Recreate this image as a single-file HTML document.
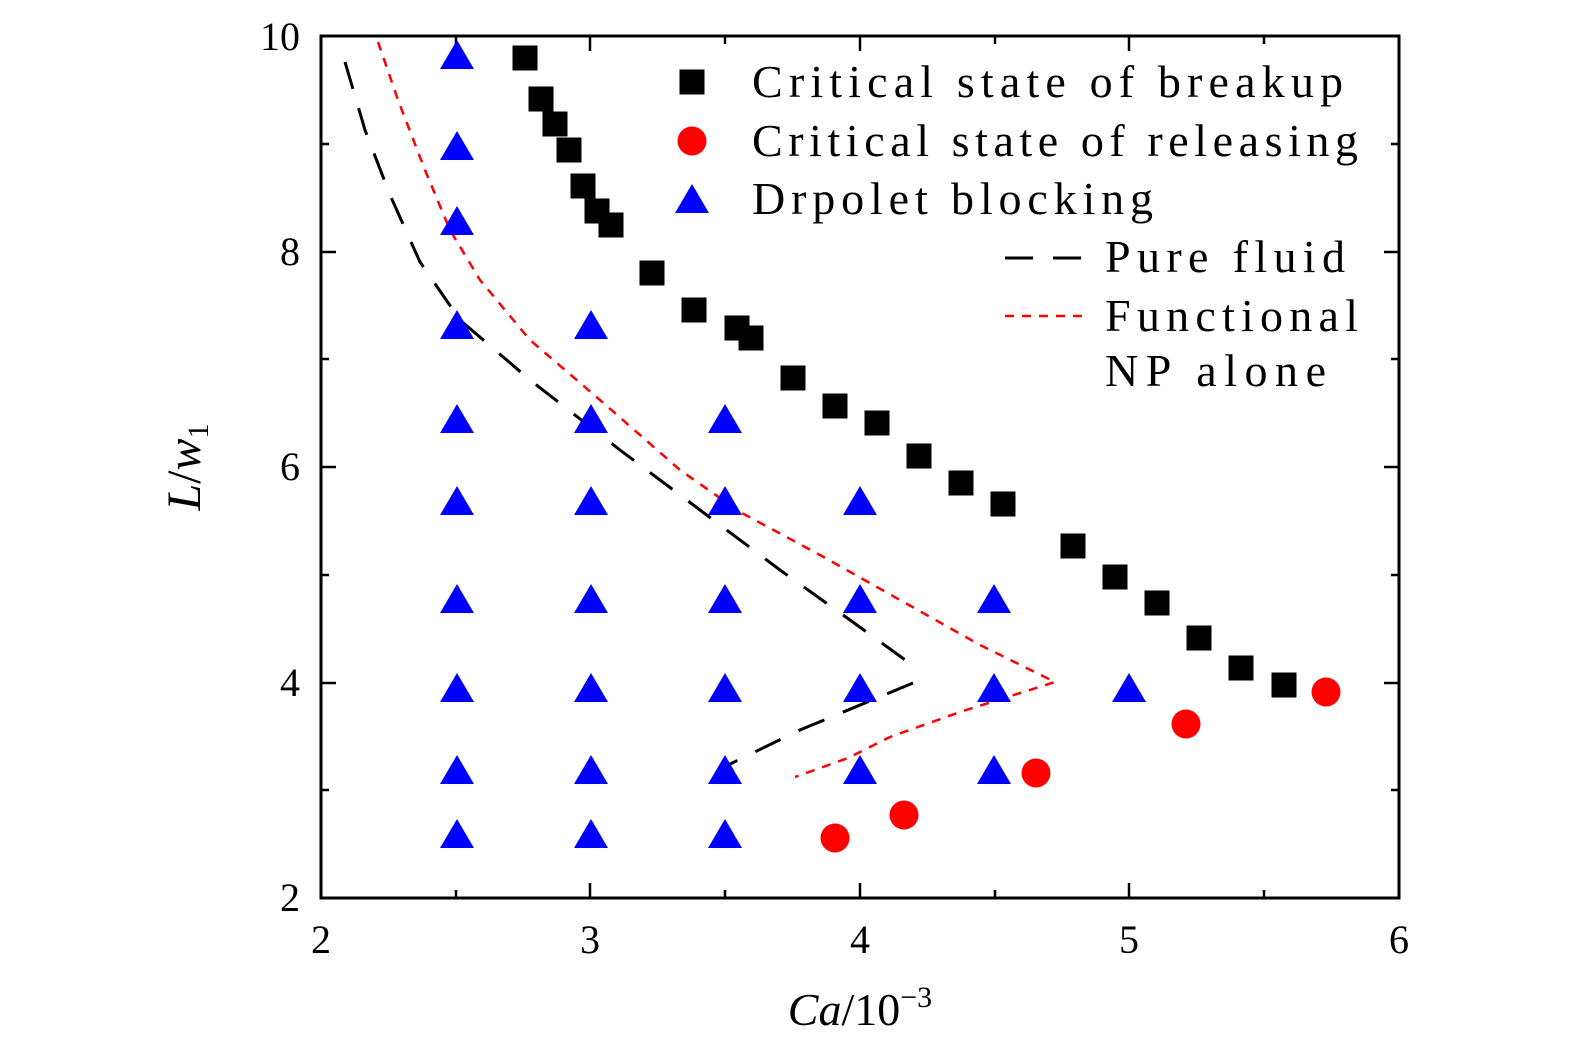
<!DOCTYPE html>
<html><head><style>body{margin:0;background:#fff}</style></head><body>
<svg width="1575" height="1053" xmlns="http://www.w3.org/2000/svg" font-family="Liberation Serif, serif">
<defs>
<path id="t" d="M-17,13 L0,-16 L17,13 Z" fill="#0000ff"/>
<rect id="s" x="-12.5" y="-12.5" width="25" height="25" fill="#000"/>
</defs>
<rect x="321" y="36" width="1078" height="862" fill="none" stroke="#000" stroke-width="3"/>
<g stroke="#000" stroke-width="2.5">
<line x1="321" y1="898" x2="321" y2="883"/><line x1="590" y1="898" x2="590" y2="883"/><line x1="860" y1="898" x2="860" y2="883"/><line x1="1129" y1="898" x2="1129" y2="883"/>
<line x1="456" y1="898" x2="456" y2="890"/><line x1="725" y1="898" x2="725" y2="890"/><line x1="995" y1="898" x2="995" y2="890"/><line x1="1264" y1="898" x2="1264" y2="890"/>
<line x1="590" y1="36" x2="590" y2="51"/><line x1="860" y1="36" x2="860" y2="51"/><line x1="1129" y1="36" x2="1129" y2="51"/>
<line x1="456" y1="36" x2="456" y2="44"/><line x1="725" y1="36" x2="725" y2="44"/><line x1="995" y1="36" x2="995" y2="44"/><line x1="1264" y1="36" x2="1264" y2="44"/>
<line x1="321" y1="683" x2="336" y2="683"/><line x1="321" y1="467" x2="336" y2="467"/><line x1="321" y1="252" x2="336" y2="252"/>
<line x1="321" y1="790" x2="329" y2="790"/><line x1="321" y1="575" x2="329" y2="575"/><line x1="321" y1="359" x2="329" y2="359"/><line x1="321" y1="144" x2="329" y2="144"/>
<line x1="1399" y1="683" x2="1384" y2="683"/><line x1="1399" y1="467" x2="1384" y2="467"/><line x1="1399" y1="252" x2="1384" y2="252"/>
<line x1="1399" y1="790" x2="1391" y2="790"/><line x1="1399" y1="575" x2="1391" y2="575"/><line x1="1399" y1="359" x2="1391" y2="359"/><line x1="1399" y1="144" x2="1391" y2="144"/>
</g>
<g font-size="40" text-anchor="middle">
<text x="321" y="953">2</text><text x="590" y="953">3</text><text x="860" y="953">4</text><text x="1129" y="953">5</text><text x="1399" y="953">6</text>
</g>
<g font-size="40" text-anchor="end">
<text x="300" y="911">2</text><text x="300" y="696">4</text><text x="300" y="480">6</text><text x="300" y="265">8</text><text x="300" y="50">10</text>
</g>
<text x="860" y="1025" font-size="46" text-anchor="middle"><tspan font-style="italic">Ca</tspan>/10<tspan font-size="30" dy="-18">−3</tspan></text>
<text transform="translate(200,467) rotate(-90)" font-size="48" text-anchor="middle"><tspan font-style="italic">L</tspan>/<tspan font-style="italic">w</tspan><tspan font-size="30" dy="8">1</tspan></text>
<polyline fill="none" stroke="#000" stroke-width="3" stroke-dasharray="28,20" points="345,62 365,130 390,195 420,262 460,320 530,380 620,450 700,510 780,570 850,620 908,662"/>
<polyline fill="none" stroke="#000" stroke-width="3" stroke-dasharray="28,20" points="913,683 800,730 728,765"/>
<polyline fill="none" stroke="#f00" stroke-width="2.5" stroke-dasharray="9,8" points="378,42 398,100 425,170 450,230 480,280 530,340 600,400 680,470 740,512 820,555 900,600 980,645 1055,682 960,712 890,737 848,758 795,777"/>
<g>
<use href="#t" x="457" y="835"/><use href="#t" x="457" y="771"/><use href="#t" x="457" y="689"/><use href="#t" x="457" y="600"/><use href="#t" x="457" y="502"/><use href="#t" x="457" y="420"/><use href="#t" x="457" y="326"/><use href="#t" x="457" y="222"/><use href="#t" x="457" y="147"/><use href="#t" x="457" y="56"/>
<use href="#t" x="591" y="835"/><use href="#t" x="591" y="771"/><use href="#t" x="591" y="689"/><use href="#t" x="591" y="600"/><use href="#t" x="591" y="502"/><use href="#t" x="591" y="420"/><use href="#t" x="591" y="326"/>
<use href="#t" x="725" y="835"/><use href="#t" x="725" y="771"/><use href="#t" x="725" y="689"/><use href="#t" x="725" y="600"/><use href="#t" x="725" y="502"/><use href="#t" x="725" y="420"/>
<use href="#t" x="860" y="771"/><use href="#t" x="860" y="689"/><use href="#t" x="860" y="600"/><use href="#t" x="860" y="502"/>
<use href="#t" x="994" y="771"/><use href="#t" x="994" y="689"/><use href="#t" x="994" y="600"/>
<use href="#t" x="1129" y="689"/>
</g>
<g>
<use href="#s" x="525" y="58"/><use href="#s" x="541" y="99"/><use href="#s" x="555" y="124"/><use href="#s" x="569" y="150"/><use href="#s" x="583" y="186"/><use href="#s" x="597" y="211"/><use href="#s" x="611" y="225"/><use href="#s" x="652" y="273"/><use href="#s" x="694" y="310"/><use href="#s" x="737" y="328"/><use href="#s" x="751" y="338"/><use href="#s" x="793" y="378"/><use href="#s" x="835" y="406"/><use href="#s" x="877" y="423"/><use href="#s" x="919" y="456"/><use href="#s" x="961" y="483"/><use href="#s" x="1003" y="504"/><use href="#s" x="1073" y="546"/><use href="#s" x="1115" y="577"/><use href="#s" x="1157" y="603"/><use href="#s" x="1199" y="638"/><use href="#s" x="1241" y="668"/><use href="#s" x="1284" y="685"/>
</g>
<g fill="#f00">
<circle cx="835" cy="838" r="14.5"/><circle cx="904" cy="815" r="14.5"/><circle cx="1036" cy="773" r="14.5"/><circle cx="1186" cy="724" r="14.5"/><circle cx="1326" cy="692" r="14.5"/>
</g>
<use href="#s" x="692" y="82"/>
<circle cx="692" cy="141" r="14.5" fill="#f00"/>
<use href="#t" x="692" y="200"/>
<line x1="1005" y1="258" x2="1088" y2="258" stroke="#000" stroke-width="3" stroke-dasharray="28,20"/>
<line x1="1005" y1="316" x2="1088" y2="316" stroke="#f00" stroke-width="2.5" stroke-dasharray="9,8"/>
<g font-size="46">
<text x="752" y="97" textLength="591" lengthAdjust="spacing">Critical state of breakup</text>
<text x="752" y="156" textLength="606" lengthAdjust="spacing">Critical state of releasing</text>
<text x="752" y="214" textLength="401" lengthAdjust="spacing">Drpolet blocking</text>
<text x="1105" y="272" textLength="240" lengthAdjust="spacing">Pure fluid</text>
<text x="1105" y="331" textLength="253" lengthAdjust="spacing">Functional</text>
<text x="1105" y="386" textLength="221" lengthAdjust="spacing">NP alone</text>
</g>
</svg>
</body></html>
